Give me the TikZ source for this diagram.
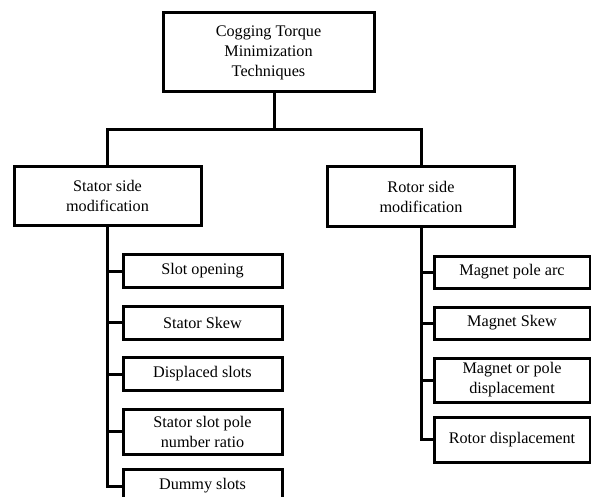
\documentclass[tikz,border=0pt]{standalone}
\usepackage{fontspec}
\setmainfont{Liberation Serif}
\begin{document}
\begin{tikzpicture}[x=1pt,y=-1pt,
  box/.style={draw=black, line width=3pt, fill=white, align=center, inner sep=0pt,
    font=\fontsize{16.2}{20}\selectfont},
  conn/.style={draw=black, line width=3pt}]
\useasboundingbox (0,0) rectangle (591,497);
\clip (0,0) rectangle (591,497);
% top
\node[box, minimum width=211pt, minimum height=79pt] (top) at (268.5,52.5) {Cogging Torque\\Minimization\\Techniques};
\node[box, minimum width=187pt, minimum height=58pt] (stator) at (107.5,196) {Stator side\\modification};
\node[box, minimum width=187pt, minimum height=59pt] (rotor) at (421,196.5) {Rotor side\\modification};
\coordinate (j) at (274,130);
\draw[conn] (top.south -| j) -- (j);
\draw[conn] (stator.north) |- (j) -| (rotor.north);
% stator leaves
\node[box, minimum width=159pt, minimum height=33pt] (s1) at (202.5,271) {Slot opening};
\node[box, minimum width=159pt, minimum height=33pt] (s2) at (202.5,322.5) {Stator Skew};
\node[box, minimum width=159pt, minimum height=33pt] (s3) at (202.5,374) {Displaced slots};
\node[box, minimum width=159pt, minimum height=45pt] (s4) at (202.5,431.5) {Stator slot pole\\number ratio};
\node[box, minimum width=159pt, minimum height=33pt] (s5) at (202.5,486) {Dummy slots};
\draw[conn] (stator.south) |- (s5.west);
\foreach \n in {s1,s2,s3,s4} \draw[conn] (\n.west) -- (\n.west -| stator.south);
% rotor leaves
\node[box, minimum width=156pt, minimum height=32pt] (r1) at (512,272) {Magnet pole arc};
\node[box, minimum width=156pt, minimum height=32pt] (r2) at (512,323) {Magnet Skew};
\node[box, minimum width=156pt, minimum height=44pt] (r3) at (512,380) {Magnet or pole\\displacement};
\node[box, minimum width=156pt, minimum height=45pt] (r4) at (512,439.5) {Rotor displacement};
\draw[conn] (rotor.south) |- (r4.west);
\foreach \n in {r1,r2,r3} \draw[conn] (\n.west) -- (\n.west -| rotor.south);
\end{tikzpicture}
\end{document}
